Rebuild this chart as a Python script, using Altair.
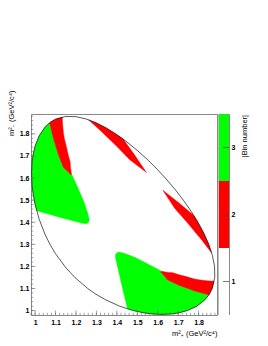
import altair as alt
import pandas as pd

# ---- Dalitz boundary: one half (the other half is its mirror image across m+^2 = m-^2)
bnd_x = [1.6185, 1.6, 1.55, 1.5, 1.45, 1.4, 1.35, 1.3, 1.25, 1.2, 1.15, 1.1, 1.075, 1.05,
         1.02, 1.0, 0.99, 0.985, 0.98268, 0.985, 0.99, 1.0, 1.02, 1.05, 1.075, 1.1, 1.15, 1.1724]
bnd_y = [1.6185, 1.6373, 1.6834, 1.7253, 1.7630, 1.7966, 1.8256, 1.8495, 1.8674, 1.8780,
         1.8790, 1.8666, 1.8531, 1.8322, 1.7914, 1.7444, 1.7043, 1.6692, 1.6213, 1.5711,
         1.5309, 1.4807, 1.4134, 1.3423, 1.2961, 1.2574, 1.1945, 1.1724]

# ---- bin regions (upper half; lower half is the mirror image)
g1_x = [1.068, 1.05, 1.02, 1.0, 0.99, 0.985, 0.98268, 0.985, 0.99, 1.0, 1.008, 1.12, 1.236,
        1.252, 1.262, 1.265, 1.258, 1.24, 1.22, 1.20, 1.178, 1.175, 1.155, 1.138, 1.114,
        1.089, 1.073]
g1_y = [1.847, 1.8322, 1.7914, 1.7444, 1.7043, 1.6692, 1.6213, 1.5711, 1.5309, 1.4807, 1.452,
        1.423, 1.394, 1.393, 1.400, 1.412, 1.44, 1.49, 1.533, 1.575, 1.620, 1.614, 1.634,
        1.648, 1.705, 1.78, 1.841]
r1_x = [1.068, 1.075, 1.1, 1.133, 1.135, 1.138, 1.143, 1.155, 1.162, 1.171, 1.174, 1.178,
        1.175, 1.155, 1.138, 1.114, 1.089, 1.073]
r1_y = [1.847, 1.8531, 1.8666, 1.876, 1.841, 1.81, 1.78, 1.735, 1.705, 1.675, 1.644, 1.620,
        1.614, 1.634, 1.648, 1.705, 1.78, 1.841]
r2_x = [1.26, 1.3, 1.35, 1.4, 1.431, 1.488, 1.545, 1.463, 1.398, 1.333]
r2_y = [1.8638, 1.8495, 1.8256, 1.7966, 1.777, 1.703, 1.625, 1.683, 1.745, 1.803]

regions = [("g1", 3, g1_x, g1_y), ("r1", 2, r1_x, r1_y), ("r2", 2, r2_x, r2_y)]

x_labels = [1.0, 1.1, 1.2, 1.3, 1.4, 1.5, 1.6, 1.7, 1.8]
y_labels = [1.0, 1.1, 1.2, 1.3, 1.4, 1.5, 1.6, 1.7, 1.8]
minor_ticks = [round(0.98 + 0.02 * k, 2) for k in range(46)]

bins = [1, 2, 3]
bin_colors = ["#ffffff", "#ff0000", "#00ff00"]

W, H = 186, 201
DOM = [0.98, 1.89]
FONT = "Liberation Sans"

# ---- tables
rows = []
for name, b, xs_, ys_ in regions:
    for i, (x, y) in enumerate(zip(xs_, ys_)):
        rows.append(dict(region=name, bin=b, x=x, y=y, i=i))
        rows.append(dict(region=name + "m", bin=b, x=y, y=x, i=i))
reg_df = pd.DataFrame(rows)

half = list(zip(bnd_x, bnd_y))
mirror = [(y, x) for x, y in half][::-1]
loop = half + mirror[1:]
bnd_df = pd.DataFrame({"x": [p[0] for p in loop], "y": [p[1] for p in loop],
                       "i": list(range(len(loop)))})

xs = alt.Scale(domain=DOM, nice=False, zero=False)
ys = alt.Scale(domain=DOM, nice=False, zero=False)
cscale = alt.Scale(domain=bins, range=bin_colors)

xaxis = alt.Axis(values=x_labels, format="~g", ticks=False, domain=False, grid=False,
                 labelFont=FONT, labelFontSize=7, labelFontWeight="bold", labelPadding=3,
                 labelColor="#000", title="m²₊ (GeV²/c⁴)", titleFont=FONT, titleFontSize=7.5,
                 titleFontWeight="normal", titleAnchor="end", titleY=14, titleColor="#000")
yaxis = alt.Axis(values=y_labels, format="~g", ticks=False, domain=False, grid=False,
                 labelFont=FONT, labelFontSize=7, labelFontWeight="bold", labelPadding=2,
                 labelColor="#000", title="m²₋ (GeV²/c⁴)", titleFont=FONT, titleFontSize=7.5,
                 titleFontWeight="normal", titleAnchor="end", titleAlign="right",
                 titleX=-16, titleY=-24, titleColor="#000")


def X(field):
    return alt.X(field, scale=xs, axis=xaxis)


def Y(field):
    return alt.Y(field, scale=ys, axis=yaxis)


regions_layer = alt.Chart(reg_df).mark_line(filled=True, strokeWidth=0.4).encode(
    x=X("x:Q"), y=Y("y:Q"),
    color=alt.Color("bin:N", scale=cscale, legend=None),
    stroke=alt.Stroke("bin:N", scale=cscale, legend=None),
    detail="region:N",
    order="i:Q",
)

boundary = alt.Chart(bnd_df).mark_line(color="#111", strokeWidth=0.7).encode(
    x=X("x:Q"), y=Y("y:Q"), order="i:Q",
)

tick_df = pd.DataFrame({"v": minor_ticks})
maj_df = pd.DataFrame({"v": x_labels})
tcol = "#666"
x_minor = alt.Chart(tick_df).mark_rule(color=tcol, strokeWidth=0.6).encode(
    x=X("v:Q"), y=alt.value(H), y2=alt.value(H - 2.2))
x_major = alt.Chart(maj_df).mark_rule(color=tcol, strokeWidth=0.6).encode(
    x=X("v:Q"), y=alt.value(H), y2=alt.value(H - 4.5))
y_minor = alt.Chart(tick_df).mark_rule(color=tcol, strokeWidth=0.6).encode(
    y=Y("v:Q"), x=alt.value(0), x2=alt.value(2.2))
y_major = alt.Chart(maj_df).mark_rule(color=tcol, strokeWidth=0.6).encode(
    y=Y("v:Q"), x=alt.value(0), x2=alt.value(4.5))

main = alt.layer(regions_layer, boundary, x_minor, x_major, y_minor, y_major)

# ---- colour bar
cb_df = pd.DataFrame({"bin": bins})
cbs = alt.Scale(domain=[0.5, 3.5], nice=False, zero=False)
cb_base = alt.Chart(cb_df)
cb_rect = cb_base.transform_calculate(lo="datum.bin - 0.5", hi="datum.bin + 0.5").mark_rect().encode(
    y=alt.Y("lo:Q", scale=cbs, axis=None), y2="hi:Q",
    x=alt.value(187.5), x2=alt.value(198.5),
    color=alt.Color("bin:N", scale=cscale, legend=None),
)
cb_ticks = cb_base.mark_rule(color="#444", strokeWidth=0.7).encode(
    y=alt.Y("bin:Q", scale=cbs, axis=None), x=alt.value(192), x2=alt.value(198.5))
cb_labels = cb_base.mark_text(align="left", baseline="middle", font=FONT, fontSize=7,
                              fontWeight="bold", color="#000").encode(
    y=alt.Y("bin:Q", scale=cbs, axis=None), x=alt.value(200.5), text="bin:N")
cb_axis = cb_base.mark_rule(color="#888", strokeWidth=0.8).encode(
    x=alt.value(198.5), y=alt.value(0), y2=alt.value(H))
cb_edge = cb_base.mark_rule(color="#bbb", strokeWidth=0.8).encode(
    x=alt.value(187.5), y=alt.value(0), y2=alt.value(H))
cb_title = alt.Chart(pd.DataFrame({"t": ["|Bin number|"]})).mark_text(
    angle=270, align="right", baseline="middle", font=FONT, fontSize=7.5, color="#000").encode(
    x=alt.value(214), y=alt.value(1), text="t:N")

cbar = alt.layer(cb_rect, cb_ticks, cb_labels, cb_axis, cb_edge, cb_title)

chart = alt.layer(main, cbar).resolve_scale(y="independent").properties(
    width=W, height=H,
    autosize=alt.AutoSizeParams(type="none"),
    padding={"left": 23, "top": 106, "right": 40, "bottom": 23},
).configure_view(stroke="#888", strokeWidth=1)

chart.save("out.html", embed_options={"renderer": "svg", "actions": False})
